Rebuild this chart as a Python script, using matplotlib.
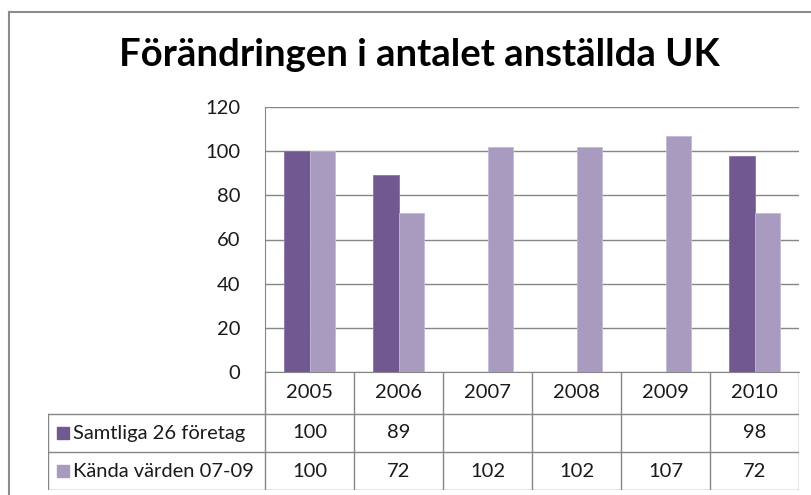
import matplotlib.pyplot as plt
from matplotlib.lines import Line2D
import numpy as np

# data
years = ["2005", "2006", "2007", "2008", "2009", "2010"]
samtliga = [100, 89, None, None, None, 98]
kanda = [100, 72, 102, 102, 107, 72]
series_names = ["Samtliga 26 företag", "Kända värden 07-09"]
yticks = [0, 20, 40, 60, 80, 100, 120]

dark = "#715891"
light = "#A99BBF"
grid_col = "#868686"
txt_col = "#1a1a1a"
font = "Lato"
fs = 14.5

W, H = 811, 495
fig = plt.figure(figsize=(W / 100, H / 100), dpi=100)


def px(x0, y0, x1, y1):
    # pixel box (top-left origin) -> figure fraction rect
    return [x0 / W, 1 - y1 / H, (x1 - x0) / W, (y1 - y0) / H]


# outer chart frame
fig.add_artist(Line2D([9 / W, 1], [1 - 12 / H] * 2, color="#8c8c8c", lw=1.5))
fig.add_artist(Line2D([9 / W] * 2, [0, 1 - 12 / H], color="#8c8c8c", lw=1.5))

fig.text(419 / W, 1 - 55 / H, "Förändringen i antalet anställda UK",
         ha="center", va="center", fontsize=27.5, fontweight="bold",
         family=font, color="black")

ax = fig.add_axes(px(265, 107, 799, 372))
x = np.arange(len(years))
bw = 0.285
vals1 = [np.nan if v is None else v for v in samtliga]
ax.bar(x - bw / 2, vals1, bw, color=dark, edgecolor="#8a74a6", lw=0.6, zorder=3)
ax.bar(x + bw / 2, kanda, bw, color=light, edgecolor="#c4b9d6", lw=0.6, zorder=3)
ax.set_xlim(-0.5, len(years) - 0.5)
ax.set_ylim(0, 120)
ax.set_yticks(yticks)
ax.set_yticklabels([str(t) for t in yticks], family=font, fontsize=fs, color=txt_col)
ax.tick_params(axis="y", length=0, pad=18)
ax.set_xticks([])
ax.grid(axis="y", color=grid_col, lw=1)
for s in ["top", "right"]:
    ax.spines[s].set_visible(False)
ax.spines["left"].set_color(grid_col)
ax.spines["bottom"].set_color(grid_col)

# data table below the plot area
tx0, tx1 = 48, 799
rows = [372, 414, 452, 490]
tab = fig.add_axes(px(tx0, rows[0], tx1, rows[-1]))
tab.set_xlim(0, tx1 - tx0)
tab.set_ylim(rows[-1] - rows[0], 0)
tab.axis("off")
c0 = 265 - tx0
cw = (tx1 - 265) / len(years)
edges = [c0 + i * cw for i in range(len(years) + 1)]
rr = [r - rows[0] for r in rows]
lc = dict(color=grid_col, lw=1)
for e in edges:
    tab.plot([e, e], [rr[0], rr[-1]], **lc)
tab.plot([0, 0], [rr[1], rr[-1]], **lc)
tab.plot([0, tx1 - tx0], [rr[1]] * 2, **lc)
tab.plot([0, tx1 - tx0], [rr[2]] * 2, **lc)
tab.plot([0, tx1 - tx0], [rr[3] - 0.5] * 2, **lc)

tk = dict(ha="center", va="center", family=font, fontsize=fs, color=txt_col)
for i, yr in enumerate(years):
    xc = c0 + (i + 0.5) * cw
    tab.text(xc, (rr[0] + rr[1]) / 2, yr, **tk)
    if samtliga[i] is not None:
        tab.text(xc, (rr[1] + rr[2]) / 2, str(samtliga[i]), **tk)
    tab.text(xc, (rr[2] + rr[3]) / 2, str(kanda[i]), **tk)

for j, (name, col) in enumerate(zip(series_names, [dark, light])):
    yc = (rr[j + 1] + rr[j + 2]) / 2
    tab.add_patch(plt.Rectangle((9, yc - 6), 12, 12, color=col))
    tab.text(25, yc, name, ha="left", va="center", family=font,
             fontsize=fs, color=txt_col)

fig.savefig("out.png", dpi=100)
